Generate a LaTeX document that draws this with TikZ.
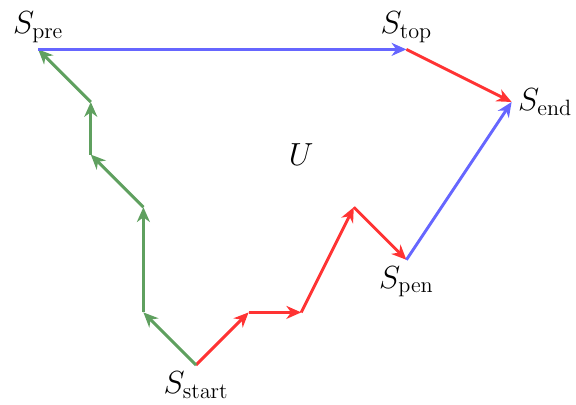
\documentclass[tikz,border=0pt]{standalone}
\usetikzlibrary{arrows.meta}
\definecolor{pred}{RGB}{255,51,51}
\definecolor{pblue}{RGB}{102,102,255}
\definecolor{pgreen}{RGB}{95,160,95}
\begin{document}
\begin{tikzpicture}[x=1cm,y=1cm,
  seg/.style={line width=1.6pt,-{Stealth[length=8pt,width=7pt,inset=2.5pt]}},
  lbl/.style={font=\fontsize{17.5}{20}\selectfont, inner sep=0.333em}]
\useasboundingbox (-3.726,-0.760) rectangle (7.224,6.939);
\coordinate (s) at (0,0);
\coordinate (r1) at (1,1);
\coordinate (r2) at (2,1);
\coordinate (r3) at (3,3);
\coordinate (pen) at (4,2);
\coordinate (end) at (6,5);
\coordinate (top) at (4,6);
\coordinate (pre) at (-3,6);
\coordinate (g1) at (-1,1);
\coordinate (g2) at (-1,3);
\coordinate (g3) at (-2,4);
\coordinate (g4) at (-2,5);
\draw[seg,pred] (s) -- (r1);
\draw[seg,pred] (r1) -- (r2);
\draw[seg,pred] (r2) -- (r3);
\draw[seg,pred] (r3) -- (pen);
\draw[seg,pblue] (pen) -- (end);
\draw[seg,pgreen] (s) -- (g1);
\draw[seg,pgreen] (g1) -- (g2);
\draw[seg,pgreen] (g2) -- (g3);
\draw[seg,pgreen] (g3) -- (g4);
\draw[seg,pgreen] (g4) -- (pre);
\draw[seg,pblue] (pre) -- (top);
\draw[seg,pred] (top) -- (end);
\node[lbl,below] (ls) at (s) {$S_{\mathrm{start}}$};
\node[lbl,below] (lp) at (pen) {$S_{\mathrm{pen}}$};
\node[lbl,right] (le) at (end) {$S_{\mathrm{end}}$};
\node[lbl,above] (lt) at (top) {$S_{\mathrm{top}}$};
\node[lbl,above] (lpr) at (pre) {$S_{\mathrm{pre}}$};
\node[lbl] (u) at (2,4) {$U$};
\end{tikzpicture}
\end{document}
